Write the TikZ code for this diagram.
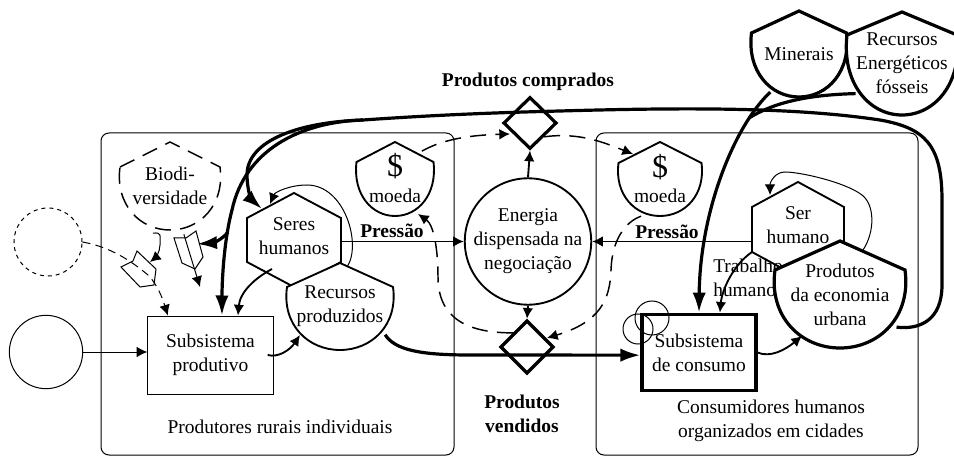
\documentclass[tikz,border=0pt]{standalone}
\usepackage{xcolor}
\usepackage{fontspec}
\setmainfont{Liberation Serif}
\usetikzlibrary{shapes.geometric, arrows.meta}

\tikzset{
  label text/.style={align=center, inner sep=0pt, font=\fontsize{14.6pt}{18pt}\selectfont},
  bold text/.style={label text, font=\fontsize{14.6pt}{18pt}\selectfont\bfseries},
  shape text/.style={label text, circle},
  thin line/.style={line width=0.75pt},
  mid line/.style={line width=1.4pt},
  heavy line/.style={line width=2.4pt},
  dash line/.style={line width=0.75pt, dash pattern=on 6pt off 4pt},
  big dash/.style={line width=1.1pt, dash pattern=on 12pt off 7pt},
  small tip/.style={-{Latex[length=8pt, width=8pt]}},
  big tip/.style={-{Latex[length=15pt, width=10pt]}}
}

% outline with a pointed top and a round bottom: cx, top, shoulder, bottom, half width
\def\tank[#1]#2(#3,#4,#5,#6,#7)#8{
  \pgfmathsetmacro\tankmid{(#4+#6)/2}
  \draw[#1, fill=white] (#3-#7,#5) -- (#3,#4) -- (#3+#7,#5)
     .. controls (#3+1.1*#7,#5+0.6*#6-0.6*#5) and (#3+0.6*#7,#6) .. (#3,#6)
     .. controls (#3-0.6*#7,#6) and (#3-1.1*#7,#5+0.6*#6-0.6*#5) .. (#3-#7,#5) -- cycle;
  \node[shape text, minimum size={1.5*#7 pt}] (#2) at (#3,\tankmid) {#8};
}
% upright hexagon: cx, top, upper shoulder, lower shoulder, bottom, half width
\def\hexa#1(#2,#3,#4,#5,#6,#7)#8{
  \pgfmathsetmacro\hexamid{(#3+#6)/2}
  \draw[mid line, fill=white] (#2,#3) -- (#2+#7,#4) -- (#2+#7,#5) -- (#2,#6)
     -- (#2-#7,#5) -- (#2-#7,#4) -- cycle;
  \node[shape text, minimum size={1.5*#7 pt}] (#1) at (#2,\hexamid-4) {#8};
}

\begin{document}
\begin{tikzpicture}[x=0.75pt, y=-0.75pt]
  \useasboundingbox (0,0) rectangle (954,456);

  % System frames
  \draw[thin line, rounded corners=6pt] (101,133) rectangle (454,455);
  \draw[thin line, rounded corners=6pt] (596,133) rectangle (918,455);
  \node[label text] (rurais) at (280,427) {Produtores rurais individuais};
  \node[label text] (cidades) at (771,421) {Consumidores humanos\\organizados em cidades};

  % Sources on the left
  \node[circle, thin line, dashed, draw, minimum size=51pt, inner sep=0pt] (fonteD) at (48,242) {};
  \node[circle, thin line, draw, minimum size=55pt, inner sep=0pt] (fonte) at (46,352) {};

  % Rural side
  \tank[big dash]{biodiv}(170,142,167,230,50){Biodi-\\versidade}
  \tank[mid line]{moedaL}(395,142,162,216,38.5){}
  \node[label text, font=\fontsize{24pt}{24pt}\selectfont] (cifraL) at (395,166) {\$};
  \node[label text] (textoL) at (395,196) {moeda};
  \hexa{seres}(294,193,218,262,287,47){Seres\\humanos}
  \tank[mid line]{recprod}(340,263,287,350,53){Recursos\\produzidos}
  \node[draw, thin line, label text, minimum width=94pt, minimum height=58.5pt] (subprod) at (210.5,355) {Subsistema\\produtivo};

  % Plants
  \draw[thin line] (121,267) -- (133,261) -- (137,251) -- (156,269) -- (154,285) -- (140,287) -- cycle;
  \draw[thin line] (174,238) -- (186,238) -- (196,231) -- (203,257) -- (195,269) -- (182,263) -- cycle;

  % Exchange
  \node[circle, mid line, draw, fill=white, minimum size=88.5pt, label text] (energia) at (528,241.5) {Energia\\dispensada na\\negocia\c{c}\~ao};
  \node[diamond, heavy line, draw, minimum width=40pt, minimum height=39pt, inner sep=0pt] (dcomp) at (530,123) {};
  \node[diamond, heavy line, draw, minimum width=40pt, minimum height=40pt, inner sep=0pt] (dvend) at (527,347) {};
  \node[bold text] (tcomp) at (528,82) {Produtos comprados};
  \node[bold text] (tvend) at (522,414) {Produtos\\vendidos};
  \node[bold text] (pressL) at (392,231) {Press\~ao};
  \node[bold text] (pressR) at (667,232) {Press\~ao};

  % Urban side
  \tank[mid line]{moedaR}(660,142,163,216,41.5){}
  \node[label text, font=\fontsize{24pt}{24pt}\selectfont] (cifraR) at (660,167) {\$};
  \node[label text] (textoR) at (660,196) {moeda};
  \hexa{ser}(798,182,207,252,277,46){Ser\\humano}
  \node[label text, align=left, anchor=west] (trabalho) at (713,278) {Trabalho\\humano};
  \tank[heavy line]{produrb}(840,241,270,348,65){Produtos\\da economia\\urbana}
  \node[draw, line width=2.8pt, label text, minimum width=85pt, minimum height=57pt] (subcons) at (699,352.5) {Subsistema\\de consumo};
  \node[circle, thin line, draw, minimum size=25.5pt, inner sep=0pt] (ciclo1) at (652,318) {};
  \node[circle, thin line, draw, minimum size=22.5pt, inner sep=0pt] (ciclo2) at (638,329) {};

  % Outside stocks
  \tank[heavy line]{minerais}(799,11,33,97,47.5){Minerais}
  \tank[heavy line]{fosseis}(902,12,35,115,55){Recursos\\Energ\'eticos\\f\'osseis}

  % Free ends
  \coordinate (tophub) at (363,120);
  \coordinate (branch) at (228,232);
  \coordinate (minjoin) at (749,118);
  \coordinate (recloop) at (347,267);
  \coordinate (urbloop) at (863,250);
  \coordinate (seresout) at (272,269);
  \coordinate (serlow) at (752,252);
  \coordinate (planta1) at (150,262);
  \coordinate (planta2) at (200,287);
  \coordinate (plantab) at (197,244);

  % Thin flows
  \draw[thin line, small tip] (fonte.east) -- (subprod.west |- fonte.east);
  \draw[dash line, small tip] (fonteD.east) .. controls (110,247) and (130,260) .. (148,275)
     .. controls (158,285) and (163,300) .. ([xshift=-32pt]subprod.north);
  \draw[thin line, small tip] (biodiv.250) .. controls (162,232) and (160,235) .. (160,245)
     .. controls (160,252) and (155,258) .. (planta1);
  \draw[thin line, small tip] (biodiv.-74) -- (planta2);
  \draw[mid line, small tip] (seresout) .. controls (255,278) and (240,292) .. ([xshift=20.6pt]subprod.north);
  \draw[mid line, small tip] ([xshift=-4.5pt]subprod.east) .. controls (278,358) and (290,350) .. (300,335);
  \draw[thin line, small tip] (recloop) .. controls (362,245) and (345,185) .. (307,185)
     .. controls (290,185) and (275,192) .. (270,204);
  \draw[thin line, small tip] (urbloop) .. controls (875,232) and (875,205) .. (862,195)
     .. controls (845,182) and (800,172) .. (785,172) .. controls (775,172) and (770,182) .. (770,195);
  \draw[mid line, small tip] (serlow) .. controls (733,265) and (722,290) .. ([xshift=15.7pt]subcons.north);
  \draw[mid line, small tip] (subcons.east) .. controls (770,358) and (785,350) .. (802,336);

  % Pressure and negotiation
  \draw[mid line, small tip] (seres.east |- energia.west) -- (energia.west);
  \draw[mid line, small tip] (ser.west |- energia.east) -- (energia.east);
  \draw[mid line, small tip] (energia.north) -- (dcomp.south);
  \draw[mid line, small tip] (energia.south) -- (dvend.north);

  % Money
  \draw[big dash, small tip] (moedaL.46) .. controls (445,138) and (475,135) .. (510,134);
  \draw[big dash, small tip] (dcomp.south east) .. controls (580,132) and (605,143) .. (633,154);
  \draw[big dash, small tip] (moedaR.243) .. controls (625,222) and (612,240) .. (611,270)
     .. controls (610,300) and (600,322) .. (547,338);
  \draw[big dash, small tip] (dvend.north west) .. controls (470,333) and (438,320) .. (438,277)
     .. controls (438,250) and (434,225) .. (418,214);

  % Heavy flows
  \draw[heavy line, big tip] (recprod.-32) .. controls (395,350) and (420,355) .. (470,355)
     -- ([yshift=-2pt]subcons.west);
  \draw[heavy line, big tip] (minerais.233) .. controls (735,125) and (700,210) .. (subcons.north);
  \draw[heavy line] (fosseis.213) .. controls (800,95) and (770,105) .. (minjoin);
  \draw[heavy line] (produrb.-30) .. controls (920,330) and (942,320) .. (942,285) -- (942,200)
     .. controls (942,145) and (925,128) .. (880,120) .. controls (800,108) and (700,107) .. (560,111)
     .. controls (480,113) and (420,116) .. (tophub);
  \draw[heavy line, big tip] (tophub) .. controls (300,122) and (247,140) .. (247,175)
     .. controls (247,190) and (252,200) .. (262,209);
  \draw[heavy line, big tip] (tophub) .. controls (300,122) and (245,150) .. (232,210)
     .. controls (224,240) and (222,280) .. ([xshift=8.6pt]subprod.north);
  \draw[heavy line, big tip] (branch) .. controls (222,240) and (212,243) .. (plantab);
\end{tikzpicture}
\end{document}
